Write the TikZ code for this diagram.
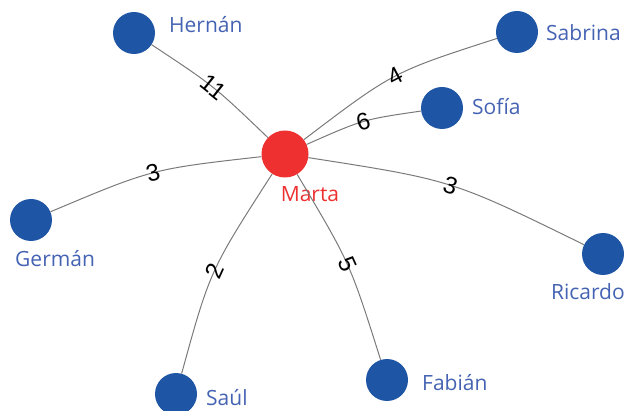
\documentclass[tikz,border=0pt]{standalone}
\usepackage{fontspec}
\setmainfont{Open Sans}
\newfontfamily\digitfont{Liberation Sans}
\definecolor{nodeblue}{HTML}{1F55A5}
\definecolor{textblue}{HTML}{4563B3}
\definecolor{martared}{HTML}{EE3030}
\definecolor{edgegray}{HTML}{7A7A7A}
\begin{document}
\begin{tikzpicture}[x=1pt,y=-1pt,
  person/.style={circle,fill=nodeblue,draw=none,minimum size=42pt,inner sep=0pt},
  hubnode/.style={circle,fill=martared,draw=none,minimum size=47pt,inner sep=0pt},
  pname/.style={text=textblue,inner sep=0pt,font=\fontsize{21}{25}\selectfont},
  edge/.style={draw=edgegray,line width=1pt},
  elabel/.style={midway,sloped,inner sep=0pt,font=\digitfont\fontsize{24}{28}\selectfont}]
\useasboundingbox (0,0) rectangle (626,411);
% nodes
\node[hubnode] (marta) at (285,154) {};
\node[pname,text=martared,anchor=base] (martaL) at (310,202) {Marta};
\node[person] (hernan) at (134,33) {};
\node[pname,anchor=base west] (hernanL) at (169,33) {Hernán};
\node[person] (sabrina) at (517,32) {};
\node[pname,anchor=base west] (sabrinaL) at (546,41) {Sabrina};
\node[person] (sofia) at (442,108) {};
\node[pname,anchor=base west] (sofiaL) at (472,115) {Sofía};
\node[person] (german) at (31,220) {};
\node[pname,anchor=base west] (germanL) at (15,267) {Germán};
\node[person] (ricardo) at (603,254) {};
\node[pname,anchor=base east] (ricardoL) at (625,300) {Ricardo};
\node[person] (saul) at (176,394) {};
\node[pname,anchor=base west] (saulL) at (206,405) {Saúl};
\node[person] (fabian) at (387,380) {};
\node[pname,anchor=base west] (fabianL) at (422,390) {Fabián};
% edges
\draw[edge] (marta) .. controls (214,86) .. (hernan) node[elabel] {11};
\draw[edge] (marta) .. controls (393,72) .. (sabrina) node[elabel] {4};
\draw[edge] (marta) .. controls (363,119.5) .. (sofia) node[elabel] {6};
\draw[edge] (marta) .. controls (152,169) .. (german) node[elabel] {3};
\draw[edge] (marta) .. controls (452,180) .. (ricardo) node[elabel] {3};
\draw[edge] (marta) .. controls (210,270.5) .. (saul) node[elabel] {2};
\draw[edge] (marta) .. controls (350,263) .. (fabian) node[elabel] {5};
\end{tikzpicture}
\end{document}
